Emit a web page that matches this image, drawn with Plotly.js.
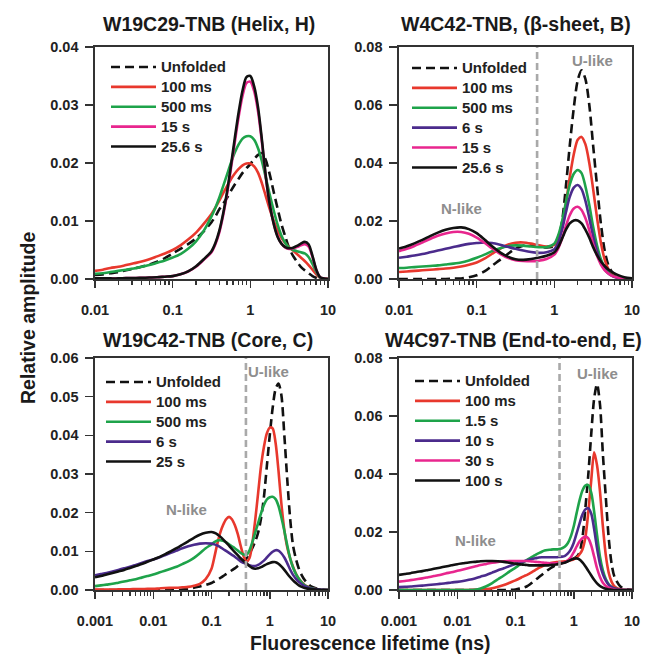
<!DOCTYPE html>
<html><head><meta charset="utf-8">
<script src="https://cdn.plot.ly/plotly-3.0.1.min.js"></script>
<style>html,body{margin:0;padding:0;background:#fff}</style>
</head><body><div id="chart" style="width:651px;height:660px"></div>
<script>
// ---------- DATA (amplitudes in units of 0.001) ----------
// Panel H: W19C29-TNB (Helix)
const tauH = [0.01,0.0126,0.0158,0.02,0.0251,0.0316,0.0398,0.0501,0.0631,0.0794,0.1,0.126,0.158,0.2,0.251,
  0.316,0.355,0.398,0.447,0.501,0.562,0.631,0.708,0.794,0.891,1,1.12,1.26,1.41,1.58,1.78,2,2.24,2.51,2.82,3.16,3.55,3.98,4.47,5.01,5.62,6.31,7.08,7.94,10];
const hUnfolded = [0.7,0.8,1.0,1.2,1.5,1.8,2.1,2.5,3.0,3.6,4.4,5.2,6.0,7.0,8.2,
  9.8,10.8,12.0,13.0,14.0,15.2,16.3,17.3,18.3,19.1,19.8,20.7,21.4,21.7,20.5,18.0,15.0,12.2,9.5,7.3,5.3,4.0,3.0,2.1,1.5,1.0,0.5,0.2,0.1,0];
const h100ms = [1.4,1.6,1.9,2.1,2.4,2.7,3.0,3.4,3.9,4.4,5.0,5.8,6.8,8.0,9.5,
  11.2,12.3,13.5,14.8,16.0,17.2,18.2,19.0,19.6,19.9,19.9,19.4,18.3,16.5,14.3,12.0,10.0,8.4,7.1,6.2,5.5,4.9,4.3,3.7,3.1,2.4,1.6,0.8,0.2,0];
const h500ms = [0.9,1.0,1.2,1.4,1.6,1.8,2.1,2.4,2.8,3.2,3.7,4.3,5.2,6.5,8.3,
  10.8,12.3,14.0,16.0,18.0,20.0,21.8,23.2,24.2,24.6,24.6,24.0,22.5,20.3,17.5,14.5,11.8,9.4,7.5,6.2,5.4,5.0,4.8,4.6,4.4,3.8,2.6,1.2,0.2,0];
const h15s = [0.1,0.1,0.1,0.1,0.15,0.15,0.2,0.25,0.3,0.4,0.5,0.8,1.3,2.1,3.3,
  4.6,6.0,8.0,11.0,14.6,19.0,23.6,28.0,31.6,33.8,34.0,32.4,28.8,23.6,17.6,12.8,9.6,7.4,6.1,5.4,5.2,5.3,5.5,5.8,6.0,5.6,3.8,1.5,0.3,0];
const h25s = [0.1,0.1,0.1,0.1,0.15,0.15,0.2,0.25,0.3,0.4,0.5,0.8,1.3,2.2,3.4,
  4.8,6.2,8.3,11.3,15.0,19.5,24.3,28.8,32.5,34.8,35.0,33.2,29.5,24.0,17.8,12.8,9.5,7.3,6.1,5.5,5.3,5.4,5.7,6.1,6.4,6.0,4.0,1.6,0.3,0];

// Panel B: W4C42-TNB (beta-sheet)
const tauB = [0.01,0.0126,0.0158,0.02,0.0251,0.0316,0.0398,0.0501,0.0631,0.0794,0.1,0.126,0.158,0.2,0.251,0.316,0.398,0.501,0.631,0.794,
  1,1.12,1.26,1.41,1.58,1.78,2,2.24,2.51,2.82,3.16,3.55,3.98,4.47,5.01,5.62,6.31,7.94,10];
const bUnfolded = [0,0,0,0,0,0,0,0.1,0.2,0.6,1.3,2.6,4.6,6.6,8.6,10.5,11.5,11.6,11.2,10.9,
  11.3,13.5,20,32,46,59,68.5,72,69,60,46,32,19,9.5,4.5,2.2,1.0,0.2,0];
const b100ms = [2.4,2.6,2.8,3.0,3.2,3.4,3.6,3.9,4.3,4.9,5.7,7.0,8.7,10.4,11.8,12.5,12.6,12.2,11.6,11.2,
  11.8,13.5,18,26,35,43,48,49,46.5,40,31,21,12.5,6.5,3.2,1.5,0.7,0.1,0];
const b500ms = [3.8,3.9,4.1,4.3,4.5,4.7,5.0,5.3,5.7,6.4,7.3,8.4,9.6,10.6,11.3,11.6,11.5,11.2,11.0,11.0,
  12.2,15,20,26.5,32.5,36.3,37.6,36.5,32,25.5,18,11.5,6.8,3.8,2.1,1.1,0.6,0.1,0];
const b6s = [7.3,7.7,8.1,8.6,9.2,9.8,10.4,11.0,11.6,12.1,12.4,12.6,12.4,11.8,11.1,10.4,9.8,9.3,9.0,9.2,
  10.3,12.5,17,23,28.3,31.5,32.4,31,27,21,14.8,9.5,5.6,3.2,1.8,1.0,0.5,0.1,0];
const b15s = [9.6,10.4,11.4,12.6,13.8,14.9,15.7,16.2,16.2,15.6,14.3,12.5,10.5,8.7,7.3,6.5,6.2,6.1,6.3,6.9,
  8.4,10.5,14,18.3,22,24.3,24.9,23.8,21,16.8,12,8,5,3,1.8,1.0,0.6,0.15,0];
const b25s = [10.5,11.3,12.3,13.5,14.8,16.0,17.0,17.6,17.8,17.2,15.8,13.6,11.3,9.2,7.7,6.8,6.6,6.9,7.4,8.0,
  9.2,11,14,17,19.2,20.2,20.2,19.2,17,14.2,11,8.2,6,4.4,3.2,2.3,1.6,0.6,0.2];

// Panels C and E share a lifetime grid
const tauCE = [0.001,0.00126,0.00158,0.002,0.00251,0.00316,0.00398,0.00501,0.00631,0.00794,0.01,0.0126,0.0158,0.02,0.0251,0.0316,0.0398,0.0501,0.0631,0.0794,
  0.1,0.112,0.126,0.141,0.158,0.178,0.2,0.224,0.251,0.282,0.316,0.355,0.398,0.447,0.501,0.562,0.631,0.708,0.794,0.891,
  1,1.12,1.26,1.41,1.58,1.78,2,2.24,2.51,2.82,3.16,3.55,3.98,4.47,5.01,6.31,7.94,10];
// Panel C: W19C42-TNB (Core)
const cUnfolded = [0,0,0,0,0,0,0,0,0,0,0,0,0,0,0,0.1,0.3,0.6,0.9,1.3,
  1.8,2.2,2.6,3.1,3.6,4.1,4.6,5.1,5.6,6.2,6.8,7.5,8.2,9.3,10.8,12.5,14.8,18.5,24,32,
  40,47,52,53.4,50.5,40,28.5,18.5,11.5,8,5.5,3.8,2.6,1.7,1.0,0.4,0.1,0];
const c100ms = [0.1,0.1,0.1,0.1,0.15,0.2,0.2,0.25,0.25,0.3,0.3,0.4,0.5,0.55,0.6,0.7,0.8,1.1,1.6,2.8,
  5.5,8.5,12.0,14.8,16.8,18.3,18.9,18.3,16.8,14.5,11.5,8.8,7.3,8.2,12,18,25,32,37,40.5,
  42,41.8,38,31,22.5,15.5,11,8.2,6,4.2,2.9,2,1.3,0.9,0.5,0.2,0,0];
const c500ms = [1.0,1.2,1.4,1.6,1.9,2.2,2.5,2.8,3.2,3.6,4.0,4.5,5.0,5.5,6.0,6.7,7.4,8.3,9.5,10.8,
  11.8,12.4,12.8,12.9,12.7,12.3,11.8,11.3,10.8,10.2,9.6,9.2,9.1,10.2,12.3,14.8,17.3,19.8,22,23.4,
  24,24.1,23.5,21.8,18.8,15.3,11.5,8.2,5.8,4.1,2.9,1.9,1.2,0.8,0.5,0.2,0,0];
const c6s = [3.8,4.1,4.4,4.8,5.2,5.6,6.0,6.5,7.0,7.5,7.9,8.4,9.0,9.6,10.2,10.8,11.3,11.7,12.0,12.1,
  12.0,11.8,11.5,11.1,10.6,10.1,9.6,9.1,8.6,8.0,7.4,7.0,6.7,6.4,6.2,6.2,6.5,7.0,7.6,8.4,
  9.2,9.9,10.3,10.2,9.5,8.4,6.9,5.3,3.9,2.9,2.1,1.5,1.0,0.7,0.4,0.2,0.05,0];
const c25s = [3.3,3.6,4.0,4.4,4.8,5.2,5.7,6.2,6.7,7.3,7.9,8.5,9.2,10.0,10.8,11.7,12.6,13.5,14.3,14.8,
  15.0,14.8,14.4,13.8,13.1,12.3,11.5,10.6,9.8,9.0,8.2,7.5,6.9,6.2,5.7,5.5,5.6,5.9,6.3,6.7,
  7.0,7.2,7.2,6.8,6.1,5.2,4.2,3.3,2.5,1.8,1.2,0.8,0.5,0.35,0.25,0.1,0,0];
// Panel E: W4C97-TNB (End-to-end)
const eUnfolded = [0,0,0,0,0,0,0,0,0,0,0,0,0,0,0,0,0,0,0,0.05,
  0.2,0.4,0.6,0.9,1.3,2.0,2.8,3.6,4.4,5.2,6.0,6.8,7.5,8.1,8.6,9.0,9.3,9.6,9.9,10.3,
  10.8,11.5,13,18,28,40,54,66,71,64,47,32,18,9,4.5,1.2,0.3,0];
const e100ms = [0,0,0,0,0,0,0,0,0,0,0,0,0,0.05,0.15,0.3,0.6,1.1,1.7,2.5,
  3.3,3.8,4.3,4.8,5.2,5.8,6.4,7.0,7.6,8.1,8.6,9.0,9.3,9.5,9.6,9.7,9.8,9.9,10.1,10.3,
  10.6,11.2,12.3,14,18,27,38,47.5,43,34,22,12,6,2.8,1.2,0.2,0,0];
const e1p5s = [0,0,0,0,0,0,0,0,0,0,0,0,0,0.1,0.5,1.3,2.4,3.7,5.0,6.4,
  7.7,8.4,9.1,9.8,10.4,11.0,11.6,12.2,12.7,13.2,13.6,13.8,13.9,14.0,14.0,14.1,14.4,15.0,16.2,18.5,
  22,26.5,31,34.3,36,36.2,33.5,27,19,11.5,6.8,3.8,2.0,1.0,0.5,0.1,0,0];
const e10s = [1.0,1.1,1.2,1.4,1.5,1.7,1.9,2.1,2.3,2.6,2.8,3.1,3.5,4.0,4.6,5.2,6.0,6.8,7.5,8.3,
  9.0,9.3,9.6,9.9,10.2,10.5,10.8,11.0,11.2,11.3,11.3,11.3,11.3,11.3,11.3,11.4,11.5,11.8,12.6,14,
  16.3,19.5,23,26,27.8,28.2,26.3,21,14.5,9,5.5,3.2,1.8,1.0,0.5,0.1,0,0];
const e30s = [2.9,3.1,3.4,3.7,4.0,4.4,4.8,5.2,5.7,6.1,6.6,7.1,7.6,8.1,8.6,9.0,9.4,9.7,9.9,10.0,
  10.0,10.0,10.0,10.0,10.0,9.9,9.8,9.7,9.6,9.5,9.4,9.3,9.2,9.2,9.2,9.2,9.3,9.6,10.3,11.3,
  13,15,16.8,17.9,18.4,17.8,15.3,11.5,7.5,4.5,2.5,1.4,0.8,0.4,0.2,0.05,0,0];
const e100s = [5.2,5.5,5.8,6.2,6.5,6.9,7.3,7.7,8.1,8.5,8.9,9.2,9.5,9.7,9.9,10.0,10.0,9.9,9.7,9.4,
  9.1,8.9,8.8,8.7,8.6,8.5,8.5,8.5,8.5,8.5,8.5,8.5,8.6,8.7,8.8,9.0,9.2,9.5,9.9,10.4,
  10.8,10.9,10.5,9.5,8.2,6.6,5.0,3.5,2.3,1.4,0.8,0.4,0.2,0.1,0,0,0,0];

// N-like / U-like divider lifetimes (ns)
const dividerB = 0.6, dividerC = 0.39, dividerE = 0.57;

// Tick labels
const ticksTop = [0.01, 0.1, 1, 10];
const ticksTopText = ['0.01', '0.1', '1', '10'];
const ticksBot = [0.001, 0.01, 0.1, 1, 10];
const ticksBotText = ['0.001', '0.01', '0.1', '1', '10'];

// ---------- STYLE ----------
const FONT = 'Liberation Sans, Arial, sans-serif';
const C = {unf:'#111111', red:'#e8382d', green:'#1ea34a', purple:'#4b2b8c', pink:'#e8268e', black:'#111111'};
const W = 651, H = 660;
const px = v => v / W, py = v => 1 - v / H;
const amp = arr => arr.map(v => v / 1000);

function tr(x, y, name, color, xa, ya, lg, dashed) {
  return {x: x, y: amp(y), name: '<span style="font-size:15px">' + name + '</span>', type: 'scatter', mode: 'lines',
    xaxis: xa, yaxis: ya, legend: lg,
    line: {color: color, width: 2.6, shape: 'spline', smoothing: 0.8, dash: dashed ? '9px,5px' : 'solid'},
    hoverinfo: 'skip'};
}

const data = [
  tr(tauH, hUnfolded, 'Unfolded', C.unf, 'x', 'y', 'legend', true),
  tr(tauH, h100ms, '100 ms', C.red, 'x', 'y', 'legend'),
  tr(tauH, h500ms, '500 ms', C.green, 'x', 'y', 'legend'),
  tr(tauH, h15s, '15 s', C.pink, 'x', 'y', 'legend'),
  tr(tauH, h25s, '25.6 s', C.black, 'x', 'y', 'legend'),

  tr(tauB, bUnfolded, 'Unfolded', C.unf, 'x2', 'y2', 'legend2', true),
  tr(tauB, b100ms, '100 ms', C.red, 'x2', 'y2', 'legend2'),
  tr(tauB, b500ms, '500 ms', C.green, 'x2', 'y2', 'legend2'),
  tr(tauB, b6s, '6 s', C.purple, 'x2', 'y2', 'legend2'),
  tr(tauB, b15s, '15 s', C.pink, 'x2', 'y2', 'legend2'),
  tr(tauB, b25s, '25.6 s', C.black, 'x2', 'y2', 'legend2'),

  tr(tauCE, cUnfolded, 'Unfolded', C.unf, 'x3', 'y3', 'legend3', true),
  tr(tauCE, c100ms, '100 ms', C.red, 'x3', 'y3', 'legend3'),
  tr(tauCE, c500ms, '500 ms', C.green, 'x3', 'y3', 'legend3'),
  tr(tauCE, c6s, '6 s', C.purple, 'x3', 'y3', 'legend3'),
  tr(tauCE, c25s, '25 s', C.black, 'x3', 'y3', 'legend3'),

  tr(tauCE, eUnfolded, 'Unfolded', C.unf, 'x4', 'y4', 'legend4', true),
  tr(tauCE, e100ms, '100 ms', C.red, 'x4', 'y4', 'legend4'),
  tr(tauCE, e1p5s, '1.5 s', C.green, 'x4', 'y4', 'legend4'),
  tr(tauCE, e10s, '10 s', C.purple, 'x4', 'y4', 'legend4'),
  tr(tauCE, e30s, '30 s', C.pink, 'x4', 'y4', 'legend4'),
  tr(tauCE, e100s, '100 s', C.black, 'x4', 'y4', 'legend4')
];

function minorVals(lo, hi) {
  const out = [];
  for (let e = lo; e < hi; e++) for (let m = 2; m <= 9; m++) out.push(m * Math.pow(10, e));
  return out;
}

const tickFont = {family: FONT, size: 14.5, color: '#222', weight: 'bold'};
function xAxis(dom, range, tv, tt, anchor) {
  return {type: 'log', range: range, domain: dom, anchor: anchor,
    showline: true, linewidth: 1.6, linecolor: '#333', mirror: true,
    ticks: 'outside', ticklen: 7, tickwidth: 1.5, tickcolor: '#333',
    tickvals: tv, ticktext: tt, tickfont: tickFont, ticklabelstandoff: 10,
    minor: {ticks: 'outside', ticklen: 4, tickwidth: 1.3, tickcolor: '#333', tickvals: minorVals(range[0], range[1]), showgrid: false},
    showgrid: false, zeroline: false, fixedrange: true, automargin: false};
}
function yAxis(dom, max, dt, anchor) {
  return {range: [0, max], domain: dom, anchor: anchor, tick0: 0, dtick: dt, tickformat: '.2f',
    showline: true, linewidth: 1.6, linecolor: '#333', mirror: true,
    ticks: 'outside', ticklen: 8, tickwidth: 1.5, tickcolor: '#333', tickfont: tickFont, ticklabelstandoff: 4,
    showgrid: false, zeroline: false, fixedrange: true, automargin: false};
}

const colL = [px(95), px(328)], colR = [px(399), px(632)];
const rowT = [py(279), py(47)], rowB = [py(590), py(358)];

const legFont = {family: FONT, size: 13, color: '#222', weight: 'bold'};
function leg(x, y) {
  return {x: px(x), y: py(y), xanchor: 'left', yanchor: 'top', bgcolor: 'rgba(0,0,0,0)', borderwidth: 0,
    font: legFont, itemwidth: 45, traceorder: 'normal', tracegroupgap: 0, itemclick: false, itemdoubleclick: false};
}

function ann(text, x, y, size, color) {
  return {text: text, x: px(x), y: py(y), xref: 'paper', yref: 'paper', showarrow: false,
    xanchor: 'center', yanchor: 'middle', font: {family: FONT, size: size, color: color, weight: 'bold'}};
}
const GRAY = '#8e8e8e';
function divider(x, xa, ya) {
  return {type: 'line', xref: xa, yref: ya + ' domain', x0: x, x1: x, y0: 0, y1: 1,
    line: {color: '#a9a9a9', width: 2.6, dash: '7px,4px'}};
}

const layout = {
  width: W, height: H, margin: {l: 0, r: 0, t: 0, b: 0},
  paper_bgcolor: '#fff', plot_bgcolor: '#fff', showlegend: true,
  font: {family: FONT, color: '#222'},
  xaxis: xAxis(colL, [-2, 1], ticksTop, ticksTopText, 'y'),
  yaxis: yAxis(rowT, 0.04, 0.01, 'x'),
  xaxis2: xAxis(colR, [-2, 1], ticksTop, ticksTopText, 'y2'),
  yaxis2: yAxis(rowT, 0.08, 0.02, 'x2'),
  xaxis3: xAxis(colL, [-3, 1], ticksBot, ticksBotText, 'y3'),
  yaxis3: yAxis(rowB, 0.06, 0.01, 'x3'),
  xaxis4: xAxis(colR, [-3, 1], ticksBot, ticksBotText, 'y4'),
  yaxis4: yAxis(rowB, 0.08, 0.02, 'x4'),
  legend: leg(106, 52),
  legend2: leg(407, 53),
  legend3: leg(101, 367),
  legend4: leg(410, 366),
  shapes: [divider(dividerB, 'x2', 'y2'), divider(dividerC, 'x3', 'y3'), divider(dividerE, 'x4', 'y4')],
  annotations: [
    ann('W19C29-TNB (Helix, H)', 209, 24, 19.5, '#1a1a1a'),
    ann('W4C42-TNB, (\u03b2-sheet, B)', 516, 24, 19.5, '#1a1a1a'),
    ann('W19C42-TNB (Core, C)', 208, 340, 19.5, '#1a1a1a'),
    ann('W4C97-TNB (End-to-end, E)', 513, 340, 19.5, '#1a1a1a'),
    ann('U-like', 592, 60, 15, GRAY),
    ann('N-like', 461, 208, 15, GRAY),
    ann('U-like', 268, 371, 15, GRAY),
    ann('N-like', 186, 509, 15, GRAY),
    ann('U-like', 597, 373, 15, GRAY),
    ann('N-like', 475, 540, 15, GRAY),
    ann('Fluorescence lifetime (ns)', 370, 643, 19.5, '#1a1a1a'),
    Object.assign(ann('Relative amplitude', 28, 318, 19.5, '#1a1a1a'), {textangle: -90})
  ]
};

Plotly.newPlot('chart', data, layout, {displayModeBar: false, staticPlot: true});
</script>
</body></html>
